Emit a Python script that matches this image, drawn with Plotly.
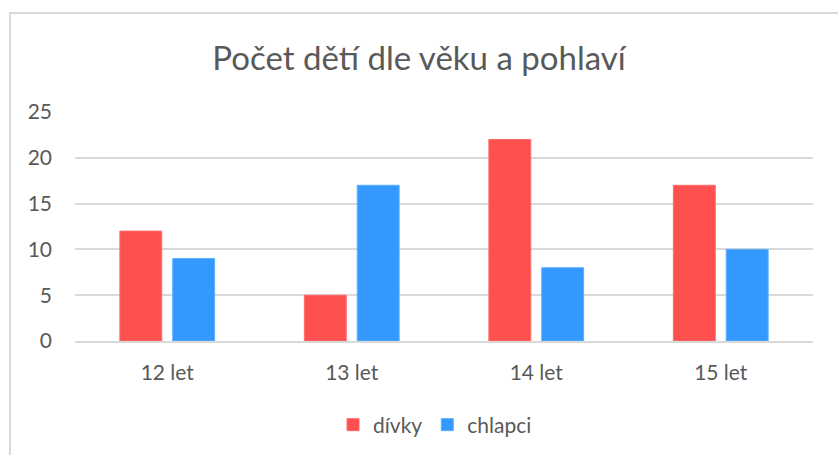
import plotly.graph_objects as go

categories = ["12 let", "13 let", "14 let", "15 let"]
divky = [12, 5, 22, 17]
chlapci = [9, 17, 8, 10]
y_ticks = [0, 5, 10, 15, 20, 25]

W, H = 838, 455
L, R, T, B = 75, 25, 112, 114
pw, ph = W - L - R, H - T - B

fig = go.Figure()
fig.add_trace(go.Bar(x=categories, y=divky, name="dívky",
                     marker=dict(color="#FF5050", line=dict(color="#FF6B6B", width=1))))
fig.add_trace(go.Bar(x=categories, y=chlapci, name="chlapci",
                     marker=dict(color="#3399FF", line=dict(color="#5AADFF", width=1))))

fnt = "Lato, Open Sans, sans-serif"
fig.update_layout(
    width=W, height=H,
    margin=dict(l=L, r=R, t=T, b=B, autoexpand=False),
    paper_bgcolor="white", plot_bgcolor="white",
    barmode="group", bargap=0.427, bargroupgap=0.2075,
    title=dict(text="Počet dětí dle věku a pohlaví", x=0.5, xref="container", xanchor="center",
               y=1 - 58 / H, yanchor="middle",
               font=dict(family=fnt, size=33, color="#595959")),
    font=dict(family=fnt, size=21, color="#595959"),
    showlegend=True,
    legend=dict(orientation="h", x=(435 - L) / pw, xanchor="center", xref="paper",
                y=-(425 - 341) / ph, yanchor="middle",
                font=dict(size=21, color="#595959"), itemwidth=30),
    yaxis=dict(range=[0, 25], tickvals=y_ticks, showgrid=True, gridcolor="#D9D9D9",
               gridwidth=1.5, zeroline=False, showline=False, ticks="",
               tickfont=dict(size=21, color="#595959"), ticklabelstandoff=22),
    xaxis=dict(showline=True, linecolor="#D9D9D9", linewidth=1.5, ticks="",
               tickfont=dict(size=21, color="#595959"), ticklabelstandoff=12),
    shapes=[dict(type="rect", xref="paper", yref="paper",
                 x0=(10 - L) / pw, x1=(W + 5 - L) / pw,
                 y0=-(H + 5 - T - ph) / ph, y1=1 + (T - 13) / ph,
                 line=dict(color="#D9D9D9", width=2), fillcolor="rgba(0,0,0,0)", layer="below")],
)

fig.write_html("out.html", config={"displayModeBar": False},
               post_script="document.body.style.margin='0';")
